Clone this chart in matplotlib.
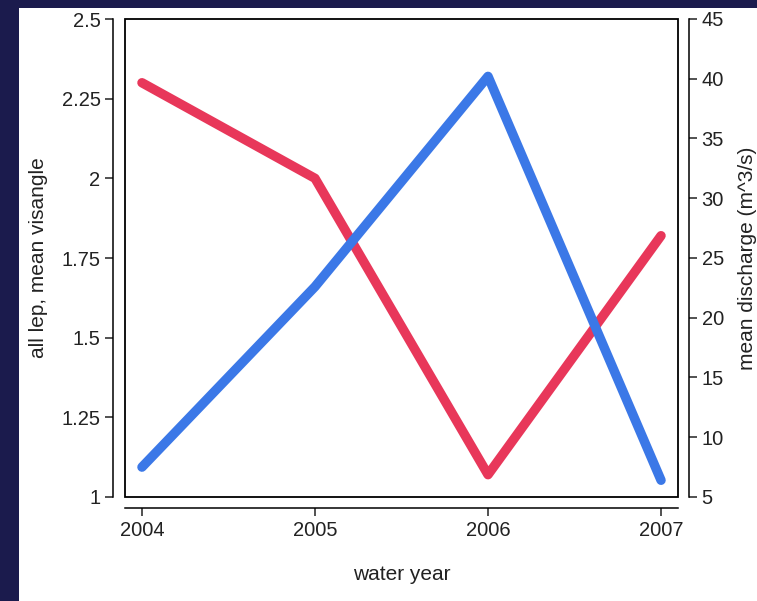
import matplotlib
matplotlib.use("Agg")
import matplotlib.pyplot as plt
from matplotlib.patches import Rectangle

plt.rcParams['font.family'] = ['Liberation Sans', 'DejaVu Sans']

# data
years = [2004, 2005, 2006, 2007]
visangle = [2.30, 2.00, 1.07, 1.82]      # left axis
discharge = [7.5, 22.6, 40.2, 6.4]       # right axis

left_ticks = [1, 1.25, 1.5, 1.75, 2, 2.25, 2.5]
left_labels = ['1', '1.25', '1.5', '1.75', '2', '2.25', '2.5']
right_ticks = [5, 10, 15, 20, 25, 30, 35, 40, 45]

fig = plt.figure(figsize=(7.57, 6.01), dpi=100)
fig.patch.set_facecolor('#1b1b4d')
# white panel
fig.patches.append(Rectangle((19 / 757, 0), 1, 1 - 8 / 601, transform=fig.transFigure,
                             facecolor='white', edgecolor='none', zorder=-10))

ax = fig.add_axes([125 / 757, 104 / 601, 553 / 757, 478 / 601])
ax.set_facecolor('none')
ax2 = ax.twinx()
ax2.set_facecolor('none')

ax.plot(years, visangle, color='#e8375a', lw=6.8, solid_capstyle='round', solid_joinstyle='round')
ax2.plot(years, discharge, color='#3b78e7', lw=6.8, solid_capstyle='round', solid_joinstyle='round')

ax.set_xlim(2003.902, 2007.098)
ax.set_ylim(1, 2.5)
ax2.set_ylim(5, 45)

ax.set_xticks(years)
ax.set_yticks(left_ticks)
ax.set_yticklabels(left_labels)
ax2.set_yticks(right_ticks)

for a in (ax, ax2):
    for s in a.spines.values():
        s.set_visible(False)
    a.tick_params(width=1.1, length=6, labelsize=14.5, colors='#222222', pad=3)

ax.spines['left'].set_visible(True)
ax.spines['left'].set_position(('outward', 8.6))
ax.spines['bottom'].set_visible(True)
ax.spines['bottom'].set_position(('outward', 8))
ax2.spines['right'].set_visible(True)
ax2.spines['right'].set_position(('outward', 8))
for s in (ax.spines['left'], ax.spines['bottom'], ax2.spines['right']):
    s.set_linewidth(1.1)

# plot region border
ax.add_patch(Rectangle((0, 0), 1, 1, transform=ax.transAxes, fill=False,
                       edgecolor='black', lw=1.3, clip_on=False, zorder=5))

ax.set_xlabel('water year', fontsize=15, labelpad=18, color='#222222')
ax.set_ylabel('all lep, mean visangle', fontsize=15, labelpad=10, color='#222222')
ax2.set_ylabel('mean discharge (m^3/s)', fontsize=15, labelpad=10, color='#222222')

fig.savefig('out.png', dpi=100, facecolor=fig.get_facecolor())
